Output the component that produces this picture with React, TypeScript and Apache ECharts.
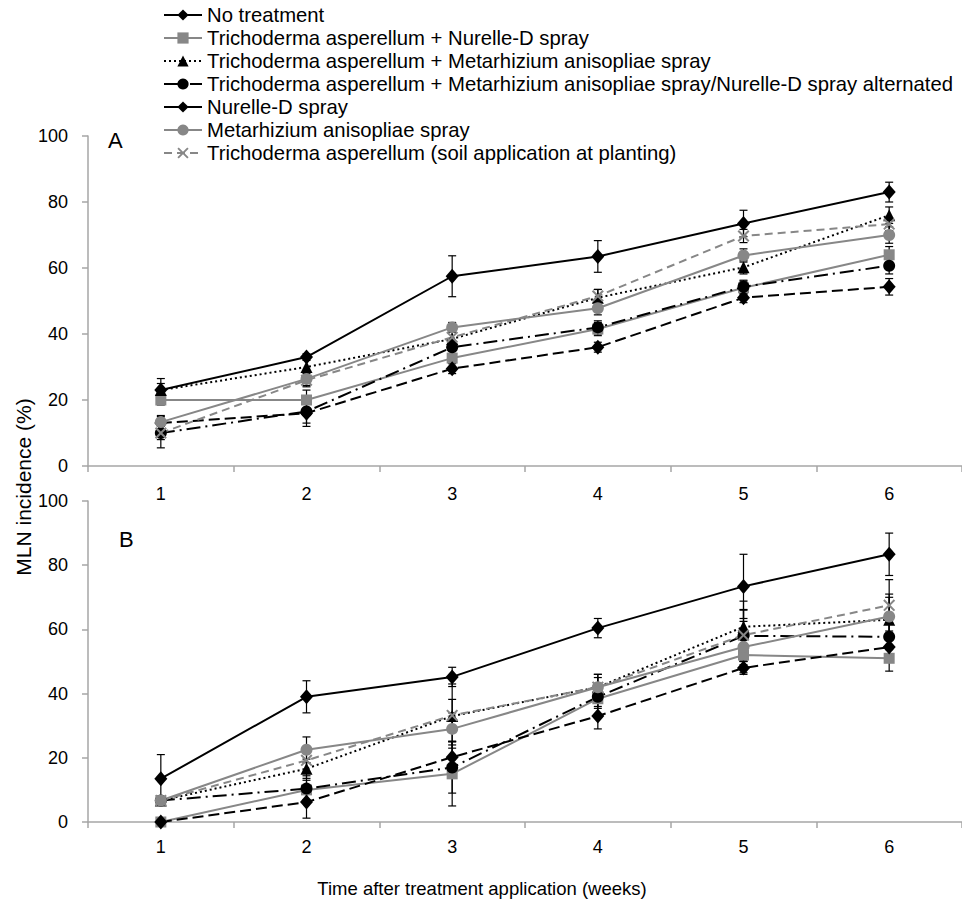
import React, { useEffect, useRef } from "react";
import * as echarts from "echarts";

const weeks = ["1", "2", "3", "4", "5", "6"];

const seriesNames = [
  "No treatment",
  "Trichoderma asperellum + Nurelle-D spray",
  "Trichoderma asperellum + Metarhizium anisopliae spray",
  "Trichoderma asperellum + Metarhizium anisopliae spray/Nurelle-D spray alternated",
  "Nurelle-D spray",
  "Metarhizium anisopliae spray",
  "Trichoderma asperellum (soil application at planting)",
];

// Panel A values (%)
const aNoTreatment = [23, 33, 57.5, 63.5, 73.5, 83];
const aTriNurelle = [20, 20, 32.7, 41.5, 54, 64];
const aTriMeta = [23, 30, 38.5, 51, 60.2, 76];
const aAlternated = [10, 16.5, 36, 42, 54.3, 60.7];
const aNurelle = [13, 16, 29.5, 36, 51, 54.3];
const aMeta = [13.3, 26.4, 42, 47.8, 63.8, 70];
const aSoil = [10, 26, 39, 51.5, 69.7, 73.3];

// Panel A error (±)
const aNoTreatmentErr = [3.5, 1, 6.2, 4.8, 4, 3];
const aTriNurelleErr = [1.5, 3, 3, 2, 2, 2.5];
const aTriMetaErr = [2, 3, 2, 2.5, 2, 2.5];
const aAlternatedErr = [4.5, 3.5, 2, 2, 2, 2.5];
const aNurelleErr = [2, 4, 1.5, 1.5, 1.5, 2.5];
const aMetaErr = [2, 2, 1.5, 2, 2, 2.5];
const aSoilErr = [2, 2, 2, 2, 2, 2];

// Panel B values (%)
const bNoTreatment = [13.5, 39, 45.2, 60.4, 73.4, 83.4];
const bTriNurelle = [0, 10, 15, 38.4, 52, 51];
const bTriMeta = [6.7, 16.6, 33, 42, 60.8, 63];
const bAlternated = [6.7, 10.4, 17, 39, 58, 57.7];
const bNurelle = [0, 6.2, 20.2, 33, 48, 54.5];
const bMeta = [6.7, 22.5, 29, 42, 54.5, 64];
const bSoil = [6.7, 19.2, 33.2, 42, 58.2, 67.5];

// Panel B error (±)
const bNoTreatmentErr = [7.5, 5, 3, 3, 10, 6.6];
const bTriNurelleErr = [0, 3, 10, 3, 3, 4];
const bTriMetaErr = [0, 3, 10, 3, 8, 8];
const bAlternatedErr = [0, 4, 8, 3, 8, 4];
const bNurelleErr = [0, 5, 5, 4, 2, 3];
const bMetaErr = [0, 4, 5, 4, 8, 6];
const bSoilErr = [0, 4, 5, 4, 8, 8];

const yTicks = [0, 20, 40, 60, 80, 100];

const FONT = "'Liberation Sans', Arial, sans-serif";
const BLACK = "#000000";
const GRAY = "#878787";
const AXIS = "#a6a6a6";

const xShape =
  "path://M0,1.2 L1.2,0 L5,3.8 L8.8,0 L10,1.2 L6.2,5 L10,8.8 L8.8,10 L5,6.2 L1.2,10 L0,8.8 L3.8,5 Z";

const styles = [
  { color: BLACK, symbol: "diamond", size: [13, 15], type: "solid" as any },
  { color: GRAY, symbol: "rect", size: 11, type: "solid" as any },
  { color: BLACK, symbol: "triangle", size: 12, type: [2, 3] as any },
  { color: BLACK, symbol: "circle", size: 12, type: [14, 5, 2, 5] as any },
  { color: BLACK, symbol: "diamond", size: [13, 15], type: [11, 5] as any },
  { color: GRAY, symbol: "circle", size: 12, type: "solid" as any },
  { color: GRAY, symbol: xShape, size: 12, type: [8, 5] as any },
];

const panelA = [aNoTreatment, aTriNurelle, aTriMeta, aAlternated, aNurelle, aMeta, aSoil];
const panelAErr = [aNoTreatmentErr, aTriNurelleErr, aTriMetaErr, aAlternatedErr, aNurelleErr, aMetaErr, aSoilErr];
const panelB = [bNoTreatment, bTriNurelle, bTriMeta, bAlternated, bNurelle, bMeta, bSoil];
const panelBErr = [bNoTreatmentErr, bTriNurelleErr, bTriMetaErr, bAlternatedErr, bNurelleErr, bMetaErr, bSoilErr];

function buildSeries(values: number[][], errs: number[][], axisIndex: number) {
  const out: any[] = [];
  values.forEach((vals, i) => {
    const errData = vals
      .map((v, k) => [k, Math.max(0, v - errs[i][k]), v + errs[i][k], errs[i][k]])
      .filter((d) => d[3] > 0);
    out.push({
      type: "custom",
      name: "err" + axisIndex + "_" + i,
      xAxisIndex: axisIndex,
      yAxisIndex: axisIndex,
      data: errData,
      encode: { x: 0, y: [1, 2] },
      z: 1,
      silent: true,
      renderItem: (params: any, api: any) => {
        const x = api.value(0);
        const lo = api.coord([x, api.value(1)]);
        const hi = api.coord([x, api.value(2)]);
        const cw = 4;
        const s = { stroke: BLACK, lineWidth: 1.2 };
        return {
          type: "group",
          children: [
            { type: "line", shape: { x1: lo[0], y1: lo[1], x2: hi[0], y2: hi[1] }, style: s },
            { type: "line", shape: { x1: lo[0] - cw, y1: lo[1], x2: lo[0] + cw, y2: lo[1] }, style: s },
            { type: "line", shape: { x1: hi[0] - cw, y1: hi[1], x2: hi[0] + cw, y2: hi[1] }, style: s },
          ],
        };
      },
    });
  });
  values.forEach((vals, i) => {
    const st = styles[i];
    out.push({
      type: "line",
      name: seriesNames[i],
      xAxisIndex: axisIndex,
      yAxisIndex: axisIndex,
      data: vals,
      symbol: st.symbol,
      symbolSize: st.size,
      showAllSymbol: true,
      z: 3,
      lineStyle: { color: st.color, width: 2, type: st.type },
      itemStyle: { color: st.color, borderWidth: 0 },
      emphasis: { disabled: true },
    });
  });
  return out;
}

const xAxisBase = (gridIndex: number, margin: number) => ({
  type: "category",
  gridIndex,
  data: weeks,
  boundaryGap: true,
  axisLine: { show: true, lineStyle: { color: AXIS, width: 1.5 } },
  axisTick: { show: true, inside: false, length: 6, lineStyle: { color: AXIS, width: 1.5 } },
  axisLabel: { fontSize: 18, color: BLACK, fontFamily: FONT, margin },
  splitLine: { show: false },
});

const yAxisBase = (gridIndex: number) => ({
  type: "value",
  gridIndex,
  min: yTicks[0],
  max: yTicks[yTicks.length - 1],
  interval: 20,
  axisLine: { show: true, lineStyle: { color: AXIS, width: 1.5 } },
  axisTick: { show: true, inside: false, length: 6, lineStyle: { color: AXIS, width: 1.5 } },
  axisLabel: { fontSize: 18, color: BLACK, fontFamily: FONT, margin: 20 },
  splitLine: { show: false },
});

export default function App() {
  const ref = useRef<HTMLDivElement>(null);
  useEffect(() => {
    if (!ref.current) return;
    const chart = echarts.init(ref.current, undefined, { renderer: "svg" });
    chart.setOption({
      animation: false,
      backgroundColor: "#ffffff",
      textStyle: { fontFamily: FONT },
      legend: {
        show: true,
        orient: "vertical",
        left: 158,
        top: 0,
        itemWidth: 38,
        itemHeight: 14,
        itemGap: 3,
        selectedMode: false,
        data: seriesNames.map((n, i) =>
          i === 4 ? { name: n, lineStyle: { type: "solid" } } : { name: n }
        ),
        textStyle: { fontSize: 20.3, color: BLACK, fontFamily: FONT, lineHeight: 20 },
      },
      grid: [
        { left: 88, top: 136, width: 874, height: 330 },
        { left: 88, top: 501, width: 874, height: 321 },
      ],
      xAxis: [xAxisBase(0, 19), xAxisBase(1, 16)],
      yAxis: [yAxisBase(0), yAxisBase(1)],
      graphic: [
        {
          type: "text",
          left: 108,
          top: 129,
          style: { text: "A", fontSize: 22, fill: BLACK, fontFamily: FONT },
        },
        {
          type: "text",
          left: 119,
          top: 528,
          style: { text: "B", fontSize: 22, fill: BLACK, fontFamily: FONT },
        },
        {
          type: "text",
          x: 23,
          y: 487,
          rotation: Math.PI / 2,
          style: {
            text: "MLN incidence (%)",
            fontSize: 21,
            fill: BLACK,
            fontFamily: FONT,
            align: "center",
            verticalAlign: "middle",
          },
        },
        {
          type: "text",
          x: 482,
          y: 888,
          style: {
            text: "Time after treatment application (weeks)",
            fontSize: 18.5,
            fill: BLACK,
            fontFamily: FONT,
            align: "center",
            verticalAlign: "middle",
          },
        },
      ],
      series: [...buildSeries(panelA, panelAErr, 0), ...buildSeries(panelB, panelBErr, 1)],
    });
    return () => chart.dispose();
  }, []);
  return (
    <div
      ref={ref}
      style={{ position: "fixed", left: 0, top: 0, width: 962, height: 906, background: "#fff" }}
    />
  );
}
